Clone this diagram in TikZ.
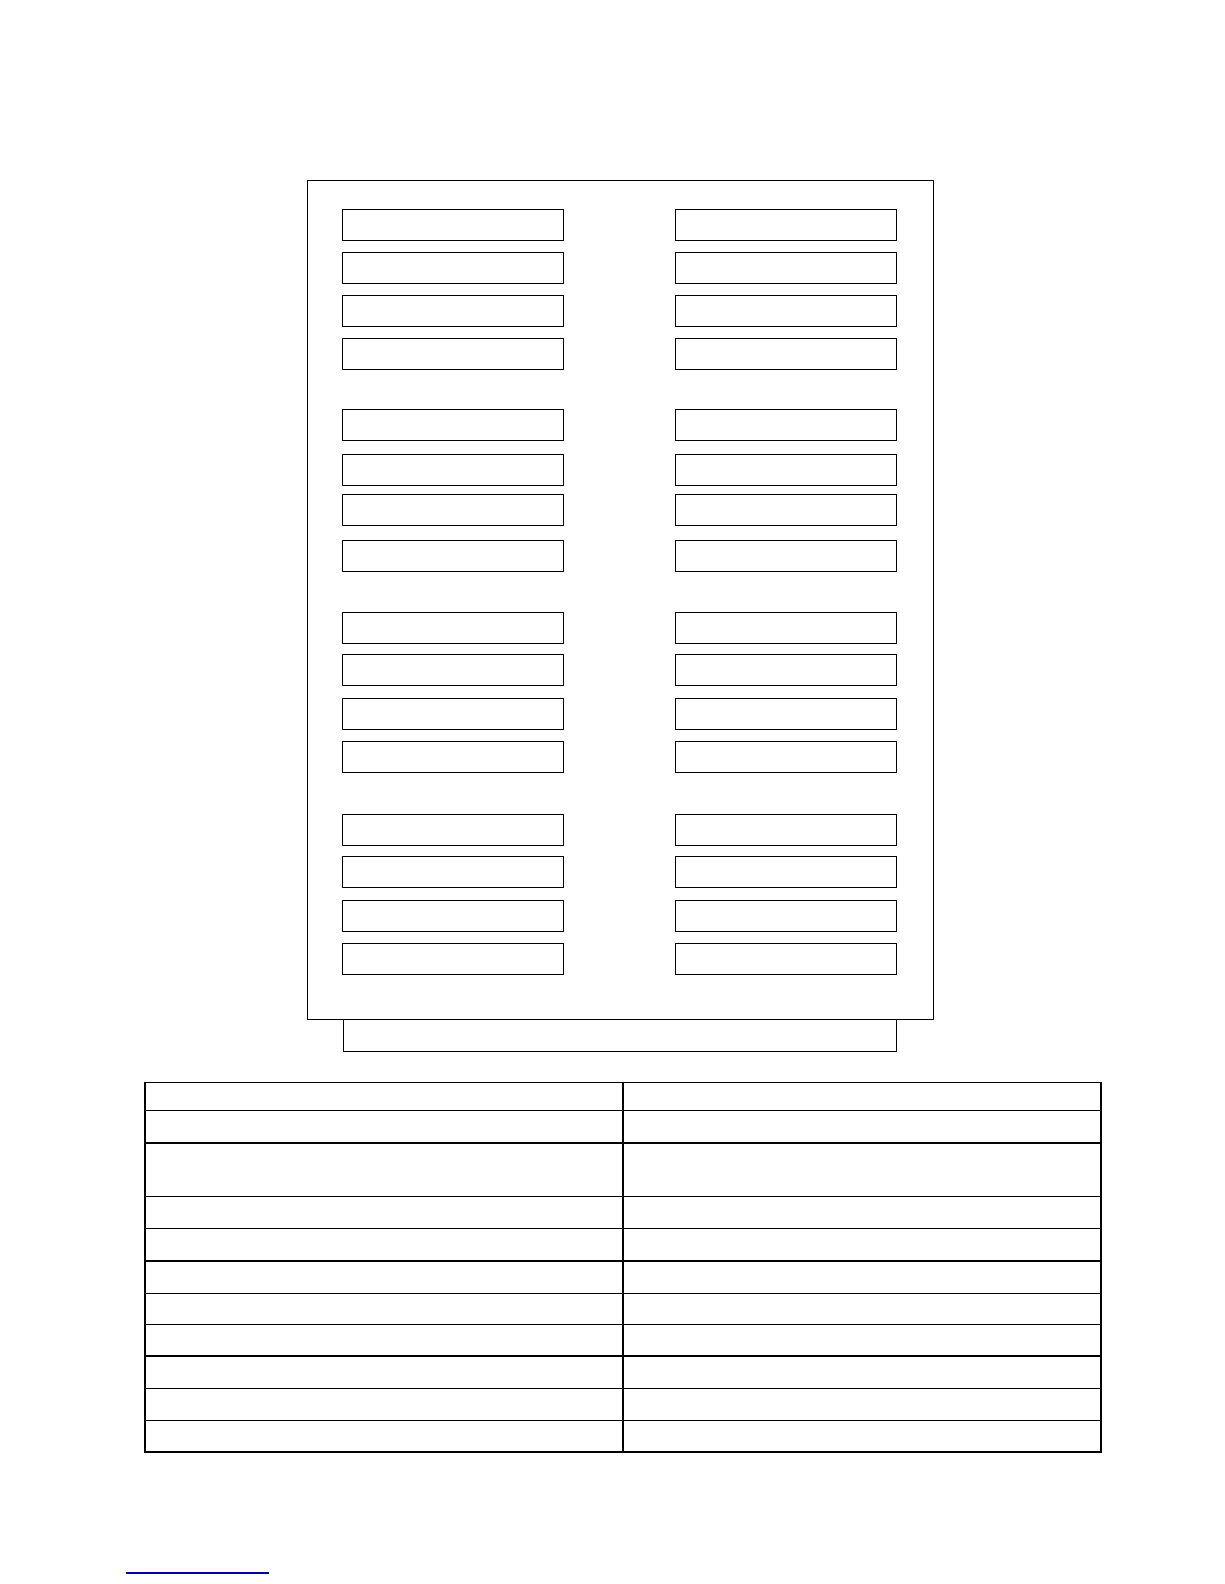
\documentclass[tikz,border=0pt]{standalone}
\usepackage{xcolor}
\usepackage{tikz}
\usetikzlibrary{positioning}

\begin{document}
\begin{tikzpicture}[
    x=1pt, y=-1pt,
    frame/.style={rectangle, draw, line width=1.4pt, anchor=north west, inner sep=0pt, minimum width=626pt, minimum height=839pt},
    slot/.style={rectangle, draw, line width=1.4pt, anchor=north west, inner sep=0pt, minimum width=221pt, minimum height=31pt},
    base/.style={rectangle, draw, line width=1.4pt, anchor=north west, inner sep=0pt, minimum width=553pt, minimum height=32pt},
    cell/.style={rectangle, draw, line width=1.4pt, anchor=north west, inner sep=0pt, minimum width=478pt},
    link/.style={draw, line width=1.6pt, color=blue!60!black}
]
\useasboundingbox (0,0) rectangle (1224,1584);

% Cabinet
\node[frame] (cabinet) at (307,180) {};

% Group 1
\node[slot] (l1) at (342,209) {};
\node[slot] (l2) at (342,252) {};
\node[slot] (l3) at (342,295) {};
\node[slot] (l4) at (342,338) {};
\node[slot] (r1) at (675,209) {};
\node[slot] (r2) at (675,252) {};
\node[slot] (r3) at (675,295) {};
\node[slot] (r4) at (675,338) {};

% Group 2
\node[slot] (l5) at (342,409) {};
\node[slot] (l6) at (342,454) {};
\node[slot] (l7) at (342,494) {};
\node[slot] (l8) at (342,540) {};
\node[slot] (r5) at (675,409) {};
\node[slot] (r6) at (675,454) {};
\node[slot] (r7) at (675,494) {};
\node[slot] (r8) at (675,540) {};

% Group 3
\node[slot] (l9) at (342,612) {};
\node[slot] (l10) at (342,654) {};
\node[slot] (l11) at (342,698) {};
\node[slot] (l12) at (342,741) {};
\node[slot] (r9) at (675,612) {};
\node[slot] (r10) at (675,654) {};
\node[slot] (r11) at (675,698) {};
\node[slot] (r12) at (675,741) {};

% Group 4
\node[slot] (l13) at (342,814) {};
\node[slot] (l14) at (342,856) {};
\node[slot] (l15) at (342,900) {};
\node[slot] (l16) at (342,943) {};
\node[slot] (r13) at (675,814) {};
\node[slot] (r14) at (675,856) {};
\node[slot] (r15) at (675,900) {};
\node[slot] (r16) at (675,943) {};

% Plinth
\node[base] (plinth) at (343,1019) {};

% Table
\node[cell, minimum height=28.3pt] (t1a) at (144.4,1081.6) {};
\node[cell, minimum height=28.3pt] (t1b) at (622.4,1081.6) {};
\node[cell, minimum height=32.3pt] (t2a) at (144.4,1109.9) {};
\node[cell, minimum height=32.3pt] (t2b) at (622.4,1109.9) {};
\node[cell, minimum height=53.5pt] (t3a) at (144.4,1142.2) {};
\node[cell, minimum height=53.5pt] (t3b) at (622.4,1142.2) {};
\node[cell, minimum height=32.3pt] (t4a) at (144.4,1195.7) {};
\node[cell, minimum height=32.3pt] (t4b) at (622.4,1195.7) {};
\node[cell, minimum height=32.3pt] (t5a) at (144.4,1228) {};
\node[cell, minimum height=32.3pt] (t5b) at (622.4,1228) {};
\node[cell, minimum height=32.4pt] (t6a) at (144.4,1260.3) {};
\node[cell, minimum height=32.4pt] (t6b) at (622.4,1260.3) {};
\node[cell, minimum height=31.3pt] (t7a) at (144.4,1292.7) {};
\node[cell, minimum height=31.3pt] (t7b) at (622.4,1292.7) {};
\node[cell, minimum height=31.3pt] (t8a) at (144.4,1324) {};
\node[cell, minimum height=31.3pt] (t8b) at (622.4,1324) {};
\node[cell, minimum height=32.3pt] (t9a) at (144.4,1355.3) {};
\node[cell, minimum height=32.3pt] (t9b) at (622.4,1355.3) {};
\node[cell, minimum height=32.3pt] (t10a) at (144.4,1387.6) {};
\node[cell, minimum height=32.3pt] (t10b) at (622.4,1387.6) {};
\node[cell, minimum height=31.3pt] (t11a) at (144.4,1419.9) {};
\node[cell, minimum height=31.3pt] (t11b) at (622.4,1419.9) {};

% Link underline
\coordinate (link_a) at (126,1573);
\coordinate (link_b) at (269,1573);
\path[link] (link_a) -- (link_b);

\end{tikzpicture}
\end{document}
